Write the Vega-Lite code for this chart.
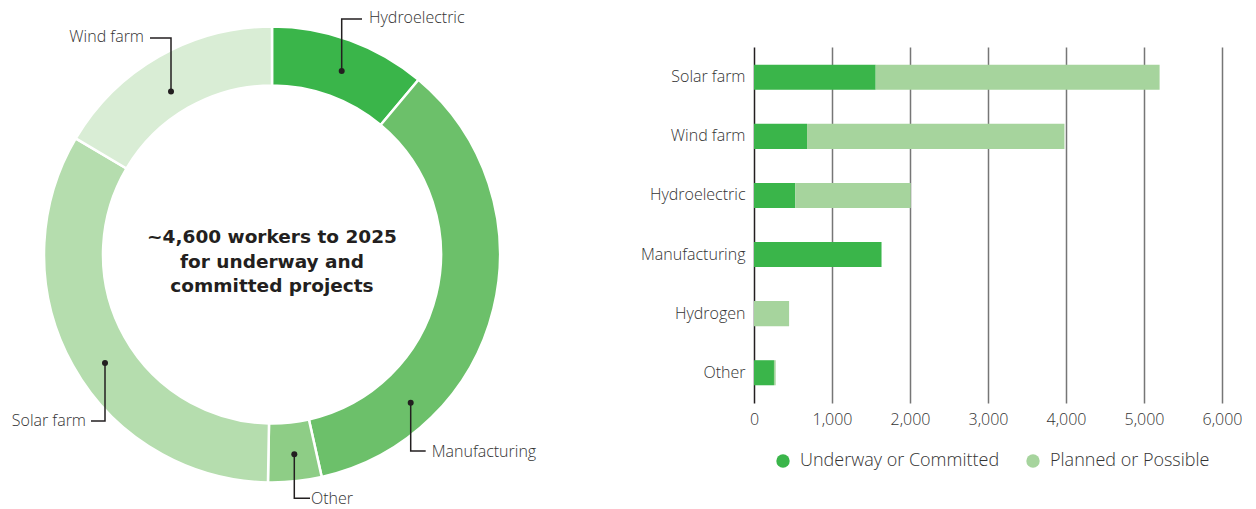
{
  "$schema": "https://vega.github.io/schema/vega-lite/v6.json",
  "padding": 0,
  "background": "white",
  "config": {
    "view": {"stroke": null},
    "font": "Open Sans",
    "concat": {"spacing": 96}
  },
  "resolve": {"scale": {"color": "independent"}},
  "datasets": {
    "donut": [
      {"category": "Hydroelectric", "rank": 1, "workers": 511},
      {"category": "Manufacturing", "rank": 2, "workers": 1628},
      {"category": "Other", "rank": 3, "workers": 174},
      {"category": "Solar farm", "rank": 4, "workers": 1528},
      {"category": "Wind farm", "rank": 5, "workers": 759}
    ],
    "callouts": [
      {"label": "Hydroelectric", "seq": 0, "x": 69.7, "y": 183.5},
      {"label": "Hydroelectric", "seq": 1, "x": 69.7, "y": 235.5},
      {"label": "Hydroelectric", "seq": 2, "x": 90, "y": 235.5},
      {"label": "Wind farm", "seq": 0, "x": -101, "y": 163},
      {"label": "Wind farm", "seq": 1, "x": -101, "y": 216.5},
      {"label": "Wind farm", "seq": 2, "x": -122, "y": 216.5},
      {"label": "Solar farm", "seq": 0, "x": -167, "y": -108.5},
      {"label": "Solar farm", "seq": 1, "x": -167, "y": -166.5},
      {"label": "Solar farm", "seq": 2, "x": -181, "y": -166.5},
      {"label": "Manufacturing", "seq": 0, "x": 138.7, "y": -148.2},
      {"label": "Manufacturing", "seq": 1, "x": 138.7, "y": -196.5},
      {"label": "Manufacturing", "seq": 2, "x": 153.7, "y": -196.5},
      {"label": "Other", "seq": 0, "x": 22.3, "y": -199.8},
      {"label": "Other", "seq": 1, "x": 22.3, "y": -243.8},
      {"label": "Other", "seq": 2, "x": 38, "y": -243.8}
    ],
    "labels": [
      {"label": "Hydroelectric", "side": "left", "x": 97, "y": 236.5},
      {"label": "Wind farm", "side": "right", "x": -128, "y": 217.5},
      {"label": "Solar farm", "side": "right", "x": -186, "y": -166.5},
      {"label": "Manufacturing", "side": "left", "x": 159.7, "y": -197},
      {"label": "Other", "side": "left", "x": 39, "y": -244}
    ],
    "center": [
      {"text": "~4,600 workers to 2025\nfor underway and\ncommitted projects", "x": 0, "y": 17.5}
    ],
    "bars": [
      {"category": "Solar farm", "status": "Underway or Committed", "srank": 1, "workers": 1560},
      {"category": "Solar farm", "status": "Planned or Possible", "srank": 2, "workers": 3640},
      {"category": "Wind farm", "status": "Underway or Committed", "srank": 1, "workers": 680},
      {"category": "Wind farm", "status": "Planned or Possible", "srank": 2, "workers": 3300},
      {"category": "Hydroelectric", "status": "Underway or Committed", "srank": 1, "workers": 530},
      {"category": "Hydroelectric", "status": "Planned or Possible", "srank": 2, "workers": 1480},
      {"category": "Manufacturing", "status": "Underway or Committed", "srank": 1, "workers": 1635},
      {"category": "Manufacturing", "status": "Planned or Possible", "srank": 2, "workers": 0},
      {"category": "Hydrogen", "status": "Underway or Committed", "srank": 1, "workers": 0},
      {"category": "Hydrogen", "status": "Planned or Possible", "srank": 2, "workers": 450},
      {"category": "Other", "status": "Underway or Committed", "srank": 1, "workers": 256},
      {"category": "Other", "status": "Planned or Possible", "srank": 2, "workers": 22}
    ]
  },
  "hconcat": [
    {
      "width": 544,
      "height": 462,
      "layer": [
        {
          "data": {"name": "donut"},
          "mark": {"type": "arc", "outerRadius": 228, "innerRadius": 169, "stroke": "white", "strokeWidth": 2.5},
          "encoding": {
            "x": {"datum": 0, "type": "quantitative", "scale": {"domain": [-272, 272], "nice": false, "zero": false}, "axis": null},
            "y": {"datum": 0, "type": "quantitative", "scale": {"domain": [-254.5, 207.5], "nice": false, "zero": false}, "axis": null},
            "theta": {"field": "workers", "type": "quantitative", "stack": true},
            "order": {"field": "rank", "type": "quantitative"},
            "color": {
              "field": "category", "type": "nominal",
              "scale": {
                "domain": ["Hydroelectric", "Manufacturing", "Other", "Solar farm", "Wind farm"],
                "range": ["#3AB54A", "#6CC06A", "#8ECD86", "#B5DDAE", "#D9EDD5"]
              },
              "legend": null
            }
          }
        },
        {
          "data": {"name": "callouts"},
          "mark": {"type": "line", "color": "#231f20", "strokeWidth": 1.5},
          "encoding": {
            "x": {"field": "x", "type": "quantitative"},
            "y": {"field": "y", "type": "quantitative"},
            "detail": {"field": "label", "type": "nominal"},
            "order": {"field": "seq", "type": "quantitative"}
          }
        },
        {
          "data": {"name": "callouts"},
          "transform": [{"filter": "datum.seq == 0"}],
          "mark": {"type": "point", "filled": true, "color": "#231f20", "size": 36, "opacity": 1},
          "encoding": {
            "x": {"field": "x", "type": "quantitative"},
            "y": {"field": "y", "type": "quantitative"}
          }
        },
        {
          "data": {"name": "labels"},
          "transform": [{"filter": "datum.side == 'left'"}],
          "mark": {"type": "text", "align": "left", "baseline": "middle", "fontSize": 16, "fontWeight": 300, "color": "#333333"},
          "encoding": {
            "x": {"field": "x", "type": "quantitative"},
            "y": {"field": "y", "type": "quantitative"},
            "text": {"field": "label", "type": "nominal"}
          }
        },
        {
          "data": {"name": "labels"},
          "transform": [{"filter": "datum.side == 'right'"}],
          "mark": {"type": "text", "align": "right", "baseline": "middle", "fontSize": 16, "fontWeight": 300, "color": "#333333"},
          "encoding": {
            "x": {"field": "x", "type": "quantitative"},
            "y": {"field": "y", "type": "quantitative"},
            "text": {"field": "label", "type": "nominal"}
          }
        },
        {
          "data": {"name": "center"},
          "mark": {"type": "text", "align": "center", "baseline": "middle", "font": "DejaVu Sans", "fontSize": 18.5, "fontWeight": "bold", "lineHeight": 24.5, "lineBreak": "\n", "color": "#231f20"},
          "encoding": {
            "x": {"field": "x", "type": "quantitative"},
            "y": {"field": "y", "type": "quantitative"},
            "text": {"field": "text", "type": "nominal"}
          }
        }
      ]
    },
    {
      "width": 468,
      "height": 356,
      "data": {"name": "bars"},
      "layer": [
        {
          "mark": {"type": "bar"},
          "encoding": {
            "y": {
              "field": "category", "type": "nominal",
              "sort": ["Solar farm", "Wind farm", "Hydroelectric", "Manufacturing", "Hydrogen", "Other"],
              "scale": {"paddingInner": 0.576, "paddingOuter": 0.3},
              "axis": {"title": null, "ticks": false, "domain": false, "labelFontSize": 16, "labelFontWeight": 300, "labelColor": "#333333", "labelPadding": 9}
            },
            "x": {
              "field": "workers", "type": "quantitative", "stack": "zero",
              "scale": {"domain": [0, 6000], "nice": false},
              "axis": {
                "orient": "bottom",
                "values": [0, 1000, 2000, 3000, 4000, 5000, 6000],
                "format": ",.0f",
                "title": null,
                "grid": true,
                "gridColor": {"condition": {"test": "datum.value === 0", "value": "#231f20"}, "value": "#767676"},
                "gridWidth": 1.5,
                "ticks": false,
                "domain": false,
                "labelFlush": false,
                "labelFontSize": 16,
                "labelFontWeight": 300,
                "labelColor": "#333333",
                "labelPadding": 8
              }
            },
            "color": {
              "field": "status", "type": "nominal",
              "scale": {"domain": ["Underway or Committed", "Planned or Possible"], "range": ["#3AB54A", "#A6D49D"]},
              "legend": {
                "title": null, "orient": "bottom", "direction": "horizontal",
                "symbolType": "circle", "symbolSize": 180, "labelFontSize": 18, "labelFontWeight": 300,
                "labelColor": "#333333", "labelLimit": 0, "columnPadding": 24, "labelOffset": 8,
                "padding": 20, "offset": 5
              }
            },
            "order": {"field": "srank", "type": "quantitative"}
          }
        },
        {
          "mark": {"type": "bar", "opacity": 0},
          "encoding": {
            "y": {"field": "category", "type": "nominal", "sort": ["Solar farm", "Wind farm", "Hydroelectric", "Manufacturing", "Hydrogen", "Other"]},
            "x": {
              "field": "workers", "type": "quantitative", "stack": "zero",
              "axis": {"orient": "top", "labels": false, "ticks": false, "domain": false, "grid": false, "title": null, "minExtent": 47, "maxExtent": 47}
            },
            "order": {"field": "srank", "type": "quantitative"}
          }
        }
      ],
      "resolve": {"axis": {"x": "independent"}}
    }
  ]
}
